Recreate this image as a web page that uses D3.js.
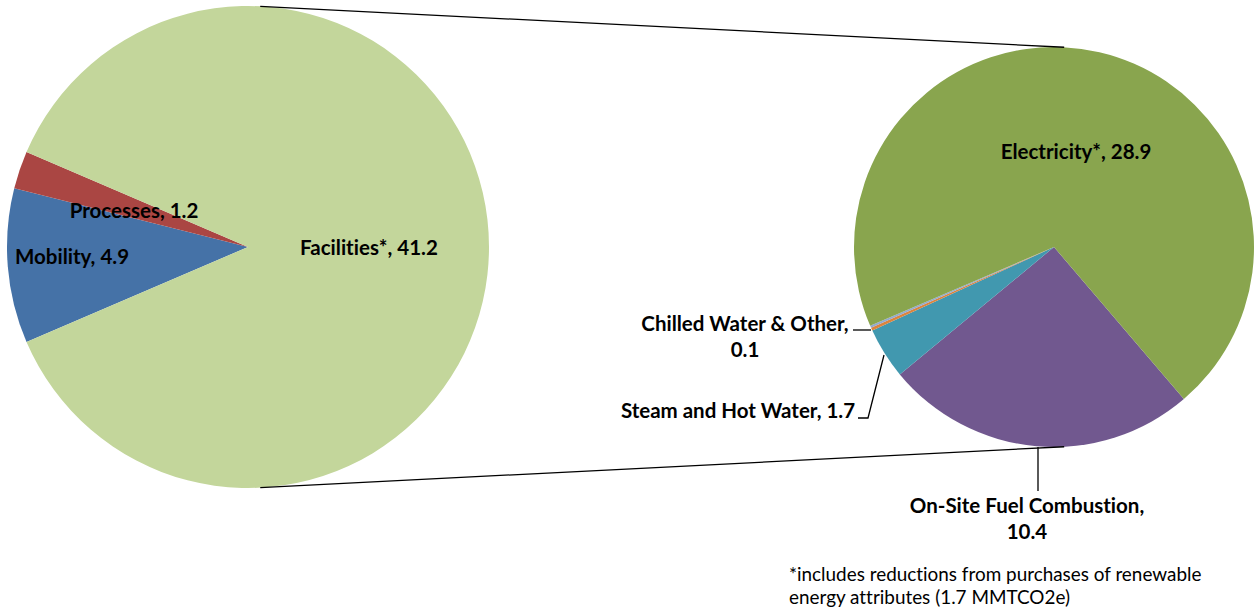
<!DOCTYPE html>
<html><head><meta charset="utf-8">
<script src="https://cdn.jsdelivr.net/npm/d3@7"></script>
<style>
html,body{margin:0;padding:0;background:#fff;}
svg{display:block;font-family:Lato,"Open Sans",sans-serif;font-variant-ligatures:none;font-feature-settings:"liga" 0,"clig" 0;}
</style></head>
<body>
<svg id="chart" width="1254" height="613"></svg>
<script>
// Main pie
const mainCategories = ["Mobility", "Processes", "Facilities*"];
const mainValues = [4.9, 1.2, 41.2];
const mainColors = ["#4572A7", "#AA4643", "#C3D69B"];
// Secondary pie (breakdown of Facilities)
const subCategories = ["On-Site Fuel Combustion", "Steam and Hot Water", "Chilled Water & Other", "Other", "Electricity*"];
const subValues = [10.4, 1.7, 0.1, 0.07, 28.9];
const subColors = ["#71588F", "#4198AF", "#DB843D", "#93A9CF", "#89A54E"];
const footnote = ["*includes reductions from purchases of renewable", "energy attributes (1.7 MMTCO2e)"];

const svg = d3.select("#chart");
const deg = Math.PI / 180;

const c1 = {x: 248, y: 247, r: 241};
const c2 = {x: 1054, y: 247, r: 200};

// main pie: aggregated slice (last) centred pointing right
const facFrac = mainValues[2] / d3.sum(mainValues);
const start1 = Math.PI / 2 + facFrac * Math.PI;
const pie1 = d3.pie().sort(null).value(d => d).startAngle(start1).endAngle(start1 + 2 * Math.PI);
const arcs1 = pie1(mainValues);
const arc1 = d3.arc().innerRadius(0).outerRadius(c1.r);
const g1 = svg.append("g").attr("transform", `translate(${c1.x},${c1.y})`);
g1.selectAll("path").data(arcs1).join("path")
  .attr("d", arc1).attr("fill", (d, i) => mainColors[i]);

// secondary pie
const start2 = 139.5 * deg;
const pie2 = d3.pie().sort(null).value(d => d).startAngle(start2).endAngle(start2 + 2 * Math.PI);
const arcs2 = pie2(subValues);
const arc2 = d3.arc().innerRadius(0).outerRadius(c2.r);
const g2 = svg.append("g").attr("transform", `translate(${c2.x},${c2.y})`);
g2.selectAll("path").data(arcs2).join("path")
  .attr("d", arc2).attr("fill", (d, i) => subColors[i]);

// connector lines (external tangents)
const dist = c2.x - c1.x;
const phi = Math.asin((c1.r - c2.r) / dist);
[-1, 1].forEach(s => {
  const ax = c1.x + c1.r * Math.sin(phi), ay = c1.y + s * c1.r * Math.cos(phi);
  const bx = c2.x + c2.r * Math.sin(phi), by = c2.y + s * c2.r * Math.cos(phi);
  svg.append("line").attr("x1", ax).attr("y1", ay).attr("x2", bx).attr("y2", by)
    .attr("stroke", "#000").attr("stroke-width", 1.3);
});

const labStyle = sel => sel.attr("font-weight", "bold").attr("font-size", 20.5).attr("fill", "#000").attr("text-anchor", "middle");

// main labels
const mainLabelPos = [[72, 264], [134, 218], [369, 255]];
mainCategories.forEach((c, i) => {
  svg.append("text").call(labStyle).attr("x", mainLabelPos[i][0]).attr("y", mainLabelPos[i][1])
    .text(`${c}, ${mainValues[i]}`);
});

// secondary labels
svg.append("text").call(labStyle).attr("x", 1076).attr("y", 159).text(`${subCategories[4]}, ${subValues[4]}`);

const fuel = svg.append("text").call(labStyle).attr("x", 1027).attr("y", 513);
fuel.append("tspan").attr("x", 1027).text(subCategories[0] + ",");
fuel.append("tspan").attr("x", 1027).attr("dy", 26).text(subValues[0]);

svg.append("text").call(labStyle).attr("x", 738).attr("y", 418).text(`${subCategories[1]}, ${subValues[1]}`);

const chill = svg.append("text").call(labStyle).attr("x", 745).attr("y", 331);
chill.append("tspan").attr("x", 745).text(subCategories[2] + ",");
chill.append("tspan").attr("x", 745).attr("dy", 26).text(subValues[2]);

// leader lines
const lead = pts => svg.append("path").attr("d", d3.line()(pts)).attr("fill", "none").attr("stroke", "#000").attr("stroke-width", 1.3);
lead([[1038, 447], [1038, 491]]);
lead([[858, 418], [868, 418], [884, 355]]);
lead([[853, 330], [871, 330]]);

// footnote
const fn = svg.append("text").attr("font-size", 18.9).attr("fill", "#000").attr("x", 789).attr("y", 581);
footnote.forEach((t, i) => fn.append("tspan").attr("x", 789).attr("dy", i ? 23 : 0).text(t));
</script>
</body></html>
